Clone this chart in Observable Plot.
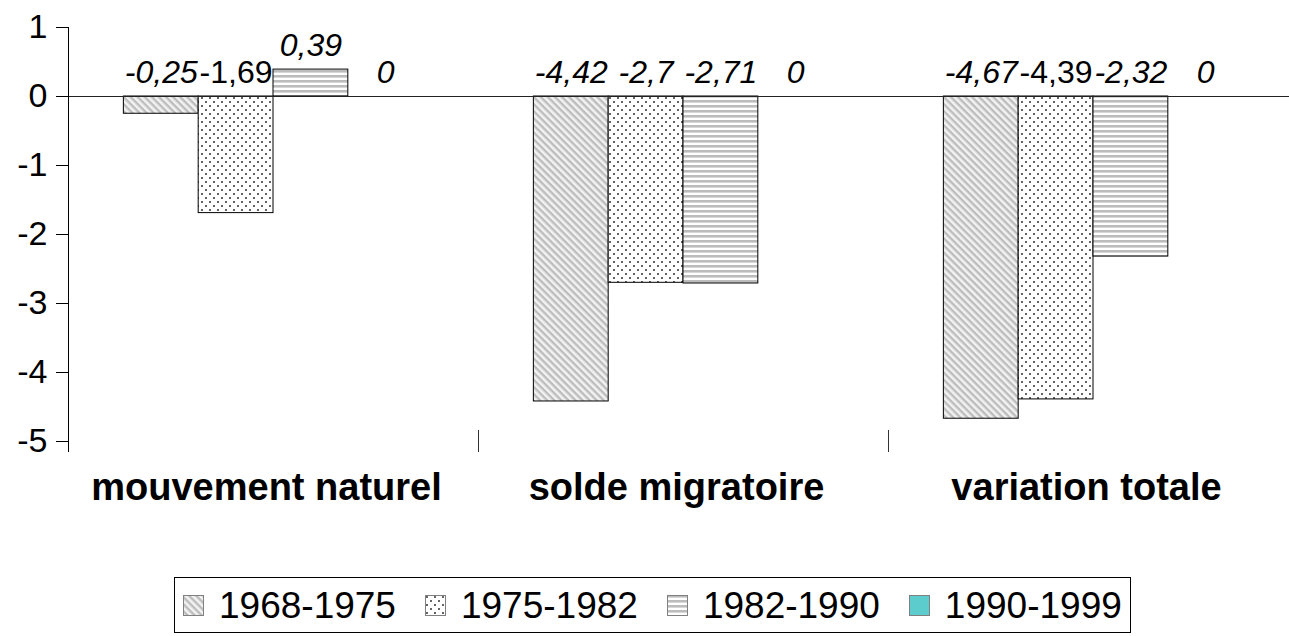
<!DOCTYPE html>
<html><head><meta charset="utf-8">
<script src="https://cdn.jsdelivr.net/npm/d3@7"></script>
<script src="https://cdn.jsdelivr.net/npm/@observablehq/plot@0.6"></script>
<style>
html,body{margin:0;padding:0;background:#fff;overflow:hidden;}
body{font-family:"Liberation Sans",Arial,sans-serif;width:1289px;height:636px;position:relative;}
#legend{position:absolute;left:174px;top:577px;height:56px;box-sizing:border-box;border:1px solid #000;display:flex;align-items:center;padding:0 8px;background:#fff;}
.item{display:flex;align-items:center;margin-right:29px;}
.item:last-child{margin-right:0;}
.sw{width:21px;height:21px;margin-right:15px;display:block;}
.lab{font-size:37px;color:#000;line-height:1;}
</style></head><body>
<div id="chart"></div>
<div id="legend"></div>
<script>
// ---- data ----
const categories = ["mouvement naturel", "solde migratoire", "variation totale"];
const periods = ["1968-1975", "1975-1982", "1982-1990", "1990-1999"];
const values1968 = [-0.25, -4.42, -4.67];
const values1975 = [-1.69, -2.7, -4.39];
const values1982 = [0.39, -2.71, -2.32];
const values1990 = [0, 0, 0];
const yTicks = [1, 0, -1, -2, -3, -4, -5];
// label style (italic or upright), as in the source chart
const italic1968 = [true, true, true];
const italic1975 = [false, true, false];
const italic1982 = [true, true, true];
const italic1990 = [true, true, true];

const series = [values1968, values1975, values1982, values1990];
const italics = [italic1968, italic1975, italic1982, italic1990];
const patternIds = ["pat1968", "pat1975", "pat1982", "pat1990"];

const groupPad = 0.74;                       // outer padding in bar widths
const slots = periods.length + 2 * groupPad;
const rows = [];
categories.forEach((c, ci) => periods.forEach((p, si) => rows.push({
  category: c, period: p, value: series[si][ci], italic: italics[si][ci],
  x1: ci + (groupPad + si) / slots, x2: ci + (groupPad + si + 1) / slots
})));
const fmt = v => String(v).replace(".", ",");
const yMin = -5, yMax = 1, overhang = 0.16;

const plot = Plot.plot({
  width: 1289, height: 530,
  marginLeft: 68, marginRight: -9, marginTop: 27, marginBottom: 89,
  style: {fontFamily: "'Liberation Sans', Arial, sans-serif", background: "white", color: "black"},
  x: {domain: [0, categories.length]},
  y: {domain: [yMin, yMax]},
  color: {type: "ordinal", domain: periods, range: patternIds.map(id => `url(#${id})`)},
  marks: [
    Plot.rectY(rows, {x1: "x1", x2: "x2", y1: 0, y2: "value", fill: "period", stroke: "black", strokeWidth: 1}),
    Plot.ruleY([0], {stroke: "#222", strokeWidth: 1}),
    Plot.ruleX([0], {y1: yMin - overhang, y2: yMax, stroke: "#000"}),
    Plot.ruleX(d3.range(1, categories.length), {y1: yMin + overhang, y2: yMin - overhang, stroke: "#333"}),
    Plot.axisY({ticks: yTicks, tickSize: 12, tickPadding: 9, fontSize: 34, tickFormat: d => `${d}`, label: null}),
    Plot.axisX({ticks: categories.map((c, i) => i + 0.5), tickSize: 0, tickPadding: 32, fontSize: 38, fontWeight: "bold",
                dx: -7, tickFormat: d => categories[Math.floor(d)], label: null}),
    Plot.text(rows.filter(d => d.italic), {x: d => (d.x1 + d.x2) / 2, y: d => Math.max(0, d.value), text: d => fmt(d.value),
      fontSize: 32, fontStyle: "italic", lineAnchor: "bottom", dy: -14, fill: "black"}),
    Plot.text(rows.filter(d => !d.italic), {x: d => (d.x1 + d.x2) / 2, y: d => Math.max(0, d.value), text: d => fmt(d.value),
      fontSize: 32, lineAnchor: "bottom", dy: -14, fill: "black"})
  ]
});

// pattern definitions
const svg = d3.select(plot);
const defs = svg.insert("defs", ":first-child");
const p1 = defs.append("pattern").attr("id", "pat1968").attr("patternUnits", "userSpaceOnUse")
  .attr("width", 5).attr("height", 5).attr("patternTransform", "rotate(45)");
p1.append("rect").attr("width", 5).attr("height", 5).attr("fill", "#f2f2f2");
p1.append("rect").attr("width", 5).attr("height", 2.4).attr("fill", "#bdbdbd");
const p2 = defs.append("pattern").attr("id", "pat1975").attr("patternUnits", "userSpaceOnUse")
  .attr("width", 8).attr("height", 8);
p2.append("rect").attr("width", 8).attr("height", 8).attr("fill", "#fff");
p2.append("circle").attr("cx", 2).attr("cy", 2).attr("r", 0.95).attr("fill", "#222");
p2.append("circle").attr("cx", 6).attr("cy", 6).attr("r", 0.95).attr("fill", "#222");
const p3 = defs.append("pattern").attr("id", "pat1982").attr("patternUnits", "userSpaceOnUse")
  .attr("width", 8).attr("height", 5);
p3.append("rect").attr("width", 8).attr("height", 5).attr("fill", "#fff");
p3.append("rect").attr("width", 8).attr("height", 2.6).attr("fill", "#bcbcbc");
const p4 = defs.append("pattern").attr("id", "pat1990").attr("patternUnits", "userSpaceOnUse")
  .attr("width", 4).attr("height", 4);
p4.append("rect").attr("width", 4).attr("height", 4).attr("fill", "#5ccccc");

document.getElementById("chart").appendChild(plot);

// legend built from the color scale
const color = plot.scale("color");
const legend = d3.select("#legend");
periods.forEach((p, i) => {
  const it = legend.append("div").attr("class", "item");
  it.append("svg").attr("class", "sw").attr("width", 21).attr("height", 21)
    .append("rect").attr("x", 0.5).attr("y", 0.5).attr("width", 20).attr("height", 20)
    .attr("fill", color.range[i]).attr("stroke", "#808080");
  it.append("span").attr("class", "lab").text(p);
});
</script>
</body></html>
